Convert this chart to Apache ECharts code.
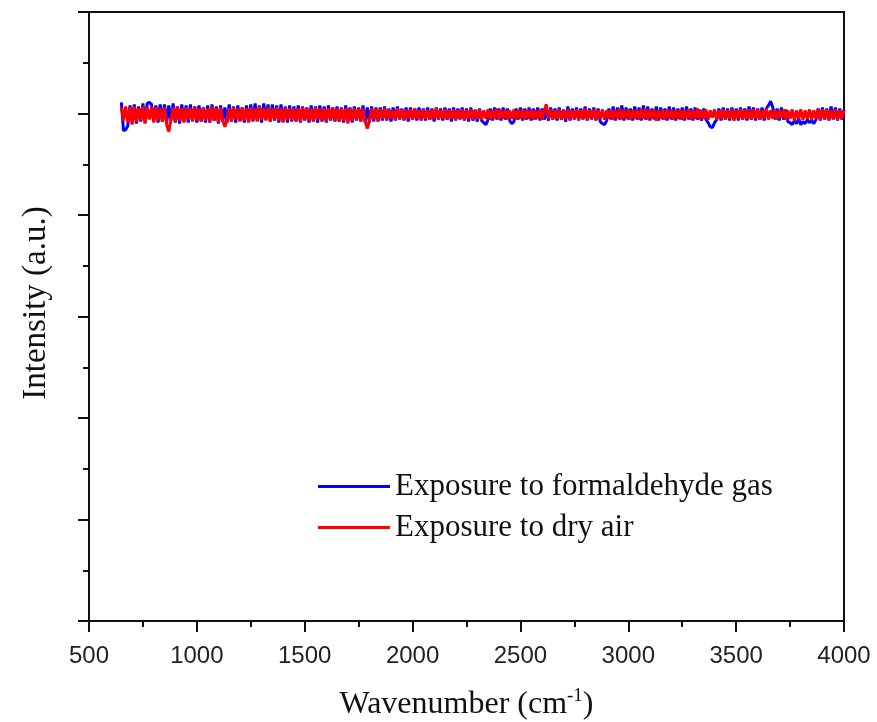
<!DOCTYPE html>
<html>
<head>
<meta charset="utf-8">
<script src="https://cdn.jsdelivr.net/npm/echarts@6/dist/echarts.min.js"></script>
<style>
html,body{margin:0;padding:0;background:#fff;}
#chart{width:877px;height:722px;}
</style>
</head>
<body>
<div id="chart"></div>
<script>
// FTIR spectra sampled every 10 cm^-1 from 650 to 4000 cm^-1
const waveStart = 650;
const waveStep = 10;

const formaldehyde = [
  5.11,4.83,4.84,4.88,5.08,4.92,5.09,4.90,5.07,4.92,5.10,4.91,5.10,5.11,5.09,4.93,5.08,4.91,5.09,4.92,
  5.09,4.91,5.08,4.93,5.10,4.91,5.07,4.90,5.09,4.92,5.08,4.91,5.09,4.93,5.07,4.91,5.08,4.92,5.06,4.91,
  5.08,4.91,5.09,4.93,5.07,4.90,5.08,4.92,5.06,4.91,5.09,4.92,5.07,4.91,5.08,4.93,5.06,4.91,5.08,4.92,
  5.09,4.92,5.10,4.93,5.08,4.91,5.10,4.94,5.09,4.92,5.09,4.93,5.08,4.91,5.09,4.92,5.07,4.91,5.08,4.92,
  5.07,4.92,5.08,4.91,5.07,4.93,5.06,4.91,5.08,4.92,5.07,4.91,5.08,4.92,5.07,4.91,5.08,4.93,5.06,4.92,
  5.07,4.92,5.06,4.91,5.08,4.92,5.06,4.91,5.07,4.93,5.06,4.92,5.08,4.91,5.06,4.91,5.07,4.92,5.06,4.92,
  5.06,4.93,5.07,4.93,5.05,4.92,5.06,4.93,5.07,4.94,5.05,4.93,5.06,4.92,5.06,4.94,5.05,4.93,5.06,4.93,
  5.05,4.93,5.06,4.94,5.05,4.92,5.06,4.94,5.05,4.93,5.06,4.94,5.05,4.92,5.06,4.93,5.05,4.94,5.06,4.93,
  5.05,4.92,5.06,4.93,5.04,4.92,5.05,4.93,4.91,4.89,4.94,5.05,4.93,5.06,4.94,5.05,4.93,5.06,4.94,5.05,
  4.93,4.90,4.92,5.05,4.94,5.06,4.93,5.05,4.94,5.06,4.93,5.05,4.94,5.06,4.93,5.05,4.94,5.04,4.93,5.06,
  4.94,5.05,4.93,5.06,4.94,5.04,4.92,5.07,4.93,5.05,4.94,5.06,4.93,5.05,4.94,5.07,4.93,5.05,4.94,5.06,
  4.93,5.05,4.92,4.90,4.89,4.93,5.05,4.94,5.07,4.93,5.06,4.94,5.08,4.93,5.06,4.94,5.05,4.93,5.07,4.94,
  5.06,4.93,5.08,4.94,5.07,4.93,5.05,4.94,5.07,4.93,5.06,4.94,5.05,4.93,5.07,4.94,5.06,4.93,5.05,4.94,
  5.06,4.93,5.07,4.94,5.05,4.93,5.06,4.94,5.04,4.93,5.05,4.94,4.91,4.87,4.86,4.91,4.94,5.05,4.93,5.06,
  4.94,5.05,4.93,5.06,4.94,5.05,4.93,5.06,4.94,5.05,4.93,5.07,4.94,5.06,4.93,5.05,4.94,5.06,4.93,5.05,
  5.08,5.12,5.06,4.94,5.05,4.93,5.06,4.94,5.04,4.92,4.91,4.89,4.93,4.90,4.95,4.89,4.92,4.90,4.94,4.91,
  4.93,4.90,4.94,5.05,4.93,5.06,4.94,5.05,4.93,5.07,4.94,5.06,4.93,5.05,4.94,5.04
];

const dryAir = [
  5.06,4.93,5.07,4.91,5.06,4.89,5.07,4.92,5.05,4.93,5.07,4.90,5.06,4.94,5.07,4.91,5.06,4.93,5.05,4.92,
  5.06,4.89,4.82,4.94,5.06,4.92,5.07,4.93,5.05,4.91,5.06,4.94,5.05,4.92,5.07,4.93,5.05,4.92,5.06,4.93,
  5.05,4.92,5.07,4.93,5.05,4.91,5.06,4.93,4.87,4.94,5.05,4.92,5.06,4.94,5.05,4.92,5.06,4.93,5.05,4.91,
  5.06,4.93,5.05,4.92,5.07,4.94,5.05,4.93,5.06,4.92,5.05,4.94,5.06,4.93,5.05,4.91,5.06,4.94,5.05,4.93,
  5.05,4.93,5.05,4.92,5.06,4.94,5.05,4.93,5.05,4.92,5.06,4.94,5.05,4.93,5.05,4.92,5.05,4.94,5.06,4.93,
  5.05,4.92,5.05,4.93,5.05,4.90,5.05,4.93,5.05,4.94,5.05,4.92,5.05,4.93,4.85,4.93,5.05,4.94,5.05,4.93,
  5.04,4.95,5.05,4.94,5.04,4.95,5.03,4.94,5.05,4.95,5.04,4.94,5.03,4.95,5.04,4.94,5.05,4.95,5.03,4.94,
  5.04,4.95,5.03,4.94,5.04,4.95,5.05,4.94,5.03,4.95,5.04,4.94,5.03,4.95,5.04,4.94,5.03,4.95,5.04,4.94,
  5.03,4.95,5.04,4.94,5.03,4.95,5.04,4.94,5.03,4.95,5.04,4.94,5.03,4.95,5.05,4.94,5.03,4.95,5.04,4.94,
  5.03,4.95,5.04,4.94,5.03,4.95,5.04,4.94,5.03,4.95,5.04,4.94,5.03,4.95,5.04,4.94,5.03,5.09,4.95,5.04,
  4.94,5.03,4.95,5.04,4.94,5.03,4.95,5.04,4.94,5.03,4.95,5.04,4.94,5.03,4.95,5.05,4.94,5.03,4.95,5.04,
  4.94,5.03,4.95,5.04,4.94,5.03,4.95,5.04,4.94,5.03,4.95,5.05,4.94,5.03,4.95,5.04,4.94,5.03,4.95,5.04,
  4.94,5.04,4.95,5.05,4.94,5.03,4.95,5.04,4.93,5.03,4.95,5.04,4.94,5.03,4.95,5.04,4.94,5.03,4.95,5.04,
  4.94,5.03,4.95,5.04,4.94,5.03,4.95,5.05,4.94,5.03,4.95,5.04,4.94,5.03,4.96,5.04,4.94,5.03,4.95,5.04,
  4.94,5.03,4.95,5.04,4.93,5.03,4.95,5.04,4.94,5.03,4.95,5.04,4.94,5.04,4.95,5.04,4.94,5.03,4.95,5.05,
  4.94,5.03,4.95,5.04,4.94,5.03,4.96,5.04,4.94,5.03,4.95,5.04,4.93,5.03,4.95,5.04,4.94,5.03,4.95,5.04,
  4.94,5.03,4.95,5.04,4.94,5.04,4.95,5.04,4.94,5.03,4.95,5.04,4.94,5.03,4.95,5.03
];

const seriesNames = ['Exposure to formaldehyde gas', 'Exposure to dry air'];
const seriesColors = ['#0000ff', '#ff0000'];
const xTicks = { min: 500, max: 4000, interval: 500 };
const yTicks = { min: 0, max: 6, interval: 1 };

function pairs(values) {
  return values.map((v, i) => [waveStart + waveStep * i, v]);
}

const serif = '"Liberation Serif", "Times New Roman", serif';
const sans = '"Liberation Sans", Arial, sans-serif';

const chart = echarts.init(document.getElementById('chart'), null, { renderer: 'canvas' });

chart.setOption({
  animation: false,
  backgroundColor: '#ffffff',
  grid: {
    left: 89, right: 33, top: 12, bottom: 101,
    outerBoundsMode: 'none',
    containLabel: false,
    show: true, borderColor: '#111', borderWidth: 2, backgroundColor: 'transparent'
  },
  legend: {
    orient: 'vertical',
    left: 313,
    top: 466,
    itemWidth: 72,
    itemHeight: 3,
    itemGap: 10,
    icon: 'rect',
    textStyle: { fontFamily: serif, fontSize: 31, color: '#111', lineHeight: 30, padding: [0, 0, 0, 0] },
    data: seriesNames
  },
  xAxis: {
    type: 'value',
    min: xTicks.min, max: xTicks.max, interval: xTicks.interval,
    name: 'Wavenumber (cm{sup|-1})',
    nameLocation: 'middle',
    nameGap: 66,
    nameTextStyle: {
      fontFamily: serif, fontSize: 32, color: '#111',
      rich: { sup: { fontFamily: serif, fontSize: 19, verticalAlign: 'bottom', padding: [0, 0, 16, 0], color: '#111' } }
    },
    axisLine: { lineStyle: { color: '#111', width: 2 } },
    axisTick: { inside: false, length: 11, lineStyle: { color: '#111', width: 2 } },
    minorTick: { show: true, splitNumber: 2, length: 6, lineStyle: { color: '#111', width: 2 } },
    axisLabel: { fontFamily: sans, fontSize: 24, color: '#222', margin: 23, formatter: v => String(v) },
    splitLine: { show: false }
  },
  yAxis: {
    type: 'value',
    min: yTicks.min, max: yTicks.max, interval: yTicks.interval,
    axisLine: { show: true, lineStyle: { color: '#111', width: 2 } },
    axisTick: { show: true, inside: false, length: 11, lineStyle: { color: '#111', width: 2 } },
    minorTick: { show: true, splitNumber: 2, length: 6, lineStyle: { color: '#111', width: 2 } },
    axisLabel: { show: false },
    splitLine: { show: false }
  },
  graphic: [{
    type: 'text',
    x: 36, y: 303,
    rotation: Math.PI / 2,
    style: {
      text: 'Intensity (a.u.)',
      fontFamily: serif, fontSize: 33, fill: '#111',
      align: 'center', verticalAlign: 'middle'
    }
  }],
  series: [
    {
      name: seriesNames[0], type: 'line', data: pairs(formaldehyde),
      showSymbol: false, color: seriesColors[0],
      lineStyle: { width: 3, color: seriesColors[0] }
    },
    {
      name: seriesNames[1], type: 'line', data: pairs(dryAir),
      showSymbol: false, color: seriesColors[1],
      lineStyle: { width: 3, color: seriesColors[1] }
    }
  ]
});
</script>
</body>
</html>
